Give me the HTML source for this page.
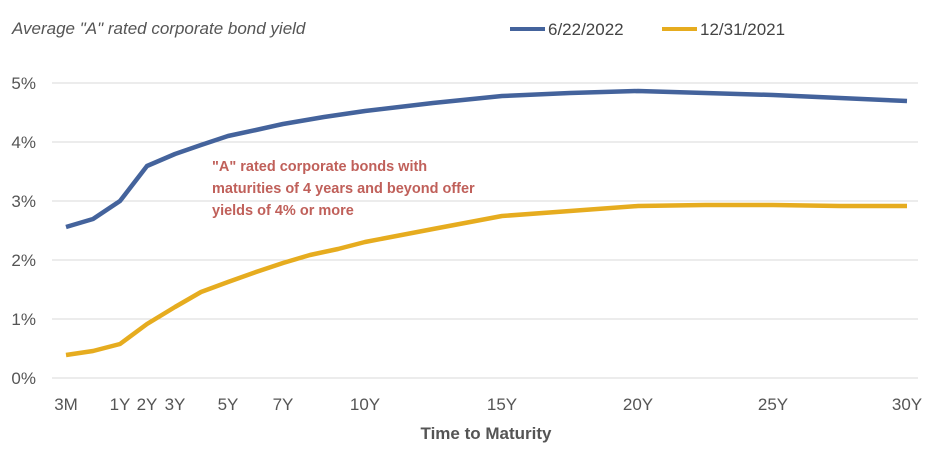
<!DOCTYPE html>
<html><head><style>
body{margin:0;background:#fff;}
svg text{font-family:"Liberation Sans",sans-serif;}
</style></head><body>
<svg width="936" height="464" xmlns="http://www.w3.org/2000/svg">
<rect width="936" height="464" fill="#fff"/>
<text x="12" y="34" font-size="17" font-style="italic" fill="#555">Average "A" rated corporate bond yield</text>
<line x1="510" y1="29" x2="545" y2="29" stroke="#44639c" stroke-width="4"/>
<text x="548" y="35" font-size="17" fill="#444">6/22/2022</text>
<line x1="662" y1="29" x2="697" y2="29" stroke="#e6ac1f" stroke-width="4"/>
<text x="700" y="35" font-size="17" fill="#444">12/31/2021</text>
<g stroke="#d9d9d9" stroke-width="1">
<line x1="52" y1="83" x2="918" y2="83"/><line x1="52" y1="142" x2="918" y2="142"/>
<line x1="52" y1="201" x2="918" y2="201"/><line x1="52" y1="260" x2="918" y2="260"/>
<line x1="52" y1="319" x2="918" y2="319"/><line x1="52" y1="378" x2="918" y2="378"/>
</g>
<g font-size="17" fill="#555" text-anchor="end">
<text x="36" y="89">5%</text><text x="36" y="148">4%</text><text x="36" y="207">3%</text>
<text x="36" y="266">2%</text><text x="36" y="325">1%</text><text x="36" y="384">0%</text>
</g>
<g font-size="17" fill="#555" text-anchor="middle">
<text x="66" y="410">3M</text><text x="120" y="410">1Y</text><text x="147" y="410">2Y</text>
<text x="175" y="410">3Y</text><text x="228" y="410">5Y</text><text x="283" y="410">7Y</text>
<text x="365" y="410">10Y</text><text x="502" y="410">15Y</text><text x="638" y="410">20Y</text>
<text x="773" y="410">25Y</text><text x="907" y="410">30Y</text>
</g>
<text x="486" y="439" font-size="17" font-weight="bold" fill="#555" text-anchor="middle">Time to Maturity</text>
<polyline fill="none" stroke="#44639c" stroke-width="4.5" stroke-linejoin="round"
points="66,227 93,219 120,201 147,166 175,154 201,145 228,136 256,130 283,124 324,117 365,111 433,103 502,96 570,93 638,91 705,93 773,95 840,98 907,101"/>
<polyline fill="none" stroke="#e6ac1f" stroke-width="4.5" stroke-linejoin="round"
points="66,355 93,351 120,344 147,324 175,307 201,292 228,282 256,272 283,263 310,255 338,249 365,242 433,229 502,216 570,211 638,206 705,205 773,205 840,206 907,206"/>
<g font-size="14.5" font-weight="bold" fill="#c0605a">
<text x="212" y="171">"A" rated corporate bonds with</text>
<text x="212" y="193">maturities of 4 years and beyond offer</text>
<text x="212" y="215">yields of 4% or more</text>
</g>
</svg>
</body></html>
